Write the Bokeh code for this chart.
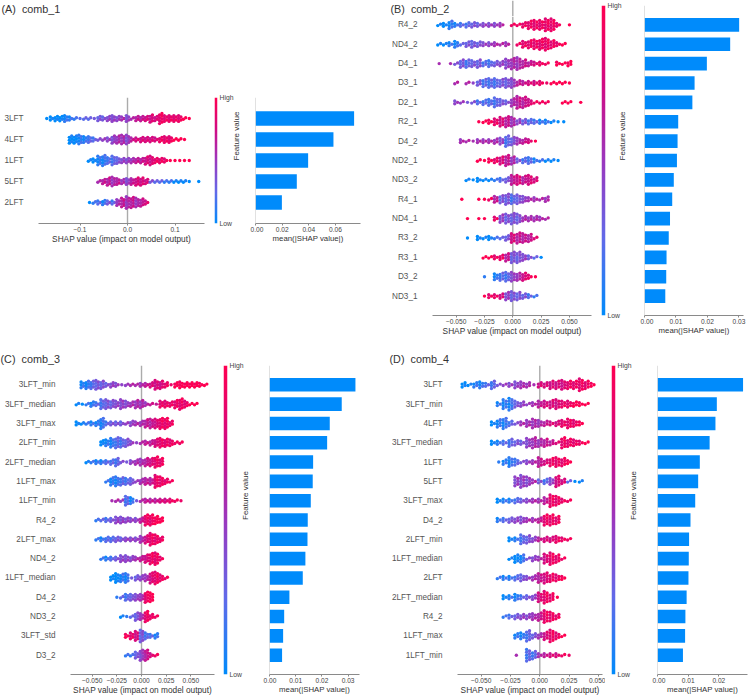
from bokeh.embed import file_html
from bokeh.resources import INLINE
from bokeh.layouts import row, column
from bokeh.plotting import figure
from bokeh.models import Range1d, FixedTicker, Span, Label, LinearColorMapper, Title
import numpy as np
import math

# ---- values in 1e-3 SHAP units: per row x / dot count / colour level (0 low .. 9 high)
A_features = ["3LFT", "4LFT", "1LFT", "5LFT", "2LFT"]
A_bars = [0.074, 0.0585, 0.0395, 0.031, 0.0198]
A_x = [
 [-170,-160,-150,-140,-130,-120,-110,-100,-90,-80,-70,-60,-50,-40,-30,-20,-10,0,10,20,30,40,50,60,70,80,90,100,110,120,130],
 [-120,-110,-100,-90,-80,-70,-60,-50,-40,-30,-20,-10,0,10,20,30,40,50,60,70,80,90,100,110,120],
 [-80,-70,-60,-50,-40,-30,-20,-10,0,10,20,30,40,50,60,70,80,90,100,110,120,130],
 [-60,-50,-40,-30,-20,-10,0,10,20,30,40,50,60,70,80,90,100,110,120,130,150],
 [-80,-70,-60,-50,-40,-30,-20,-10,0,10,20,30,40]]
A_n = [
 [1,3,4,4,5,3,2,1,2,2,1,4,3,4,5,4,3,5,2,4,4,4,6,4,8,5,5,5,5,2,1],
 [6,6,7,5,5,3,2,2,3,6,6,7,7,3,3,4,4,4,3,4,5,5,2,2,1],
 [2,3,7,8,5,7,5,4,4,4,4,4,6,7,4,4,3,1,1,1,1,1],
 [2,4,6,7,5,4,5,5,6,6,4,2,2,2,2,2,2,2,2,1,1],
 [1,2,3,4,3,3,5,7,9,8,7,6,3]]
A_c = [
 [0,0,0,0,1,1,1,2,2,2,3,3,3,4,4,4,5,4,5,6,6,7,7,7,8,8,8,8,8,9,9],
 [0,0,1,1,2,2,3,4,4,4,5,5,4,6,7,7,7,7,7,8,8,8,9,9,9],
 [0,0,1,1,2,2,3,4,4,5,6,6,7,7,8,8,8,9,9,9,9,9],
 [5,6,6,5,6,5,4,6,7,7,7,3,2,2,1,1,0,0,0,0,0],
 [0,1,2,1,3,2,5,6,5,6,5,6,7]]

B_features = ["R4_2","ND4_2","D4_1","D3_1","D2_1","R2_1","D4_2","ND2_1","ND3_2","R4_1","ND4_1","R3_2","R3_1","D3_2","ND3_1"]
B_bars = [0.03005,0.0272,0.0198,0.0159,0.0152,0.0107,0.0105,0.0103,0.0093,0.0088,0.0081,0.0077,0.0070,0.0069,0.0066]
B_x = [
 [-65,-60,-55,-50,-45,-40,-35,-30,-25,-20,-15,-10,0,5,10,15,20,25,30,35,40,50],
 [-65,-60,-55,-50,-45,-40,-35,-30,-25,-20,-15,-10,-5,5,10,15,20,25,30,35,40,45],
 [-65,-55,-50,-45,-40,-35,-30,-25,-20,-15,-10,-5,0,5,10,15,20,25,30,40,45,50],
 [-50,-40,-35,-30,-25,-20,-15,-10,-5,0,5,10,15,20,25,30,35,40,45,50],
 [-50,-45,-40,-35,-30,-25,-20,-15,-10,-5,0,5,10,15,20,25,30,45,50,60],
 [-30,-25,-20,-15,-10,-5,0,5,10,15,20,25,30,35,40,45],
 [-45,-40,-35,-30,-25,-20,-15,-10,-5,0,5,10,15,20],
 [-30,-25,-20,-15,-10,-5,0,5,10,15,20,25,30,35,40],
 [-40,-35,-30,-25,-20,-15,-10,-5,0,5,10,15,20],
 [-45,-30,-25,-20,-15,-10,-5,0,5,10,15,20,25,30],
 [-40,-30,-25,-15,-10,-5,0,5,10,15,20,25,30],
 [-40,-30,-25,-20,-15,-10,-5,0,5,10,15,20],
 [-25,-20,-15,-10,-5,0,5,10,15,20,25],
 [-25,-15,-10,-5,0,5,10,15,20],
 [-25,-20,-15,-10,-5,0,5,10,15,20]]
B_n = [
 [2,3,6,3,3,4,4,3,3,3,3,3,2,2,4,6,7,7,9,9,3,1],
 [2,2,3,5,2,4,5,4,3,3,3,2,3,2,5,6,7,8,9,6,3,2],
 [1,1,2,6,6,5,6,4,5,4,4,7,8,9,6,4,3,3,2,3,2,4],
 [2,2,1,4,6,7,7,6,7,7,4,3,3,3,3,1,2,2,2,1],
 [3,2,1,2,3,4,5,7,5,3,6,9,8,5,2,2,2,2,2,1],
 [1,2,3,5,7,8,7,4,4,4,3,3,3,2,1,1],
 [3,2,1,3,3,3,4,5,8,6,5,4,3,1],
 [2,1,3,4,6,8,6,3,4,5,3,2,2,2,1],
 [2,1,3,2,2,2,3,4,7,7,6,7,4],
 [1,1,1,2,5,6,8,7,7,5,3,3,2,4],
 [1,1,1,3,6,7,8,7,4,4,4,3,2],
 [1,3,2,3,2,2,4,7,8,7,6,2],
 [2,2,3,4,6,8,8,5,3,2,1],
 [1,5,6,7,7,6,6,3,1],
 [1,3,3,4,6,7,6,4,3,2]]
B_c = [
 [0,0,1,1,2,2,3,3,4,4,4,5,8,8,8,8,8,8,8,8,8,9],
 [0,0,1,1,2,3,3,3,4,4,5,5,5,8,8,8,8,8,8,8,8,9],
 [5,5,3,3,2,3,3,2,2,3,4,4,5,5,6,6,7,8,8,9,9,9],
 [5,5,4,3,2,2,2,3,3,4,6,6,7,7,8,8,9,9,9,9],
 [4,4,3,3,2,2,2,2,3,3,5,6,6,7,8,8,8,9,9,9],
 [9,9,9,8,7,6,5,4,3,2,2,1,1,0,0,0],
 [5,5,5,5,5,5,5,4,2,3,5,6,7,9],
 [9,9,9,8,7,6,5,3,2,2,1,1,0,0,0],
 [0,0,0,0,0,1,2,3,6,7,6,7,7],
 [9,9,9,8,6,3,3,2,3,4,5,5,5,5],
 [9,9,9,8,4,3,3,3,5,5,5,5,5],
 [0,0,0,0,1,2,3,7,6,6,6,7],
 [9,9,8,8,6,3,3,4,3,2,0],
 [1,1,2,2,4,5,7,8,9],
 [9,8,8,7,4,3,3,3,2,1]]

C_features = ["3LFT_min","3LFT_median","3LFT_max","2LFT_min","2LFT_median","1LFT_max","1LFT_min","R4_2","2LFT_max","ND4_2","1LFT_median","D4_2","ND3_2","3LFT_std","D3_2"]
C_bars = [0.0328,0.02757,0.0230,0.0220,0.01665,0.0165,0.01576,0.0146,0.0145,0.0137,0.0127,0.0076,0.0056,0.0052,0.0048]
C_x = [
 [-60,-55,-50,-45,-40,-35,-30,-25,-20,-15,-10,-5,0,5,10,15,20,25,30,35,40,45,50,55,60,65],
 [-65,-60,-55,-50,-45,-40,-35,-30,-25,-20,-15,-10,-5,0,5,10,15,20,25,30,35,40,45,50,55],
 [-65,-60,-55,-50,-45,-40,-35,-30,-25,-20,-15,-10,-5,0,5,10,15,20,25,30],
 [-40,-35,-30,-25,-20,-15,-10,-5,0,5,10,15,20,25,30,35,40],
 [-55,-50,-45,-40,-35,-30,-25,-20,-15,-10,-5,0,5,10,15,20],
 [-35,-30,-25,-20,-15,-10,-5,0,5,10,15,20,25,30],
 [-30,-25,-20,-15,-10,-5,0,5,10,15,20,25,30,35,40],
 [-45,-40,-35,-30,-25,-20,-15,-10,-5,0,5,10,15,20],
 [-45,-40,-35,-30,-25,-20,-15,-10,-5,0,5,10,15,20],
 [-40,-35,-30,-25,-20,-15,-10,-5,0,5,10,15,20],
 [-30,-25,-20,-15,-10,-5,0,5,10,15,20,25],
 [-25,-20,-15,-10,-5,0,5,10],
 [-20,-15,-10,-5,0,5,10,15],
 [-15,-10,-5,0,5,10,15],
 [-15,-10,-5,0,5,10,15]]
C_n = [
 [5,6,6,7,6,3,4,3,1,2,2,2,3,3,4,7,6,4,1,4,5,4,4,4,3,2],
 [2,1,2,4,3,7,7,6,5,7,5,4,6,6,3,2,1,5,5,4,6,8,5,2,2],
 [3,2,2,3,4,8,3,3,3,3,2,4,3,4,6,7,7,8,8,4],
 [4,5,7,8,7,6,3,1,2,3,4,6,7,6,5,2,2],
 [2,2,3,3,3,4,6,2,1,3,4,5,6,6,8,6],
 [2,6,7,6,5,5,2,4,5,5,9,7,4,2],
 [1,2,2,7,5,1,2,3,3,3,3,3,3,2,1],
 [2,2,3,3,5,5,4,3,3,4,8,8,6,4],
 [2,3,4,4,4,3,3,3,3,5,6,9,7,4],
 [2,3,3,3,5,5,4,3,4,6,8,9,3],
 [4,7,6,7,1,4,4,5,8,9,5,2],
 [1,2,5,5,5,5,8,7],
 [2,1,2,6,5,8,4,2],
 [3,5,7,9,5,3,4],
 [2,2,5,8,8,3,2]]
C_c = [
 [1,1,2,3,3,3,4,4,4,4,5,5,5,6,7,7,7,8,8,9,9,9,9,9,9,9],
 [0,0,1,1,2,2,3,3,4,4,4,5,5,5,5,6,6,8,8,8,8,8,8,9,9],
 [0,0,1,1,1,1,2,3,3,3,4,4,5,5,6,6,7,8,8,8],
 [0,1,1,2,2,3,4,4,5,6,6,7,8,8,8,8,8],
 [0,1,1,1,2,2,2,3,3,4,5,5,6,7,8,8],
 [1,1,1,2,2,3,4,5,6,6,8,8,8,8],
 [5,5,4,2,1,3,5,6,6,6,7,7,8,8,8],
 [1,2,2,3,4,4,4,4,4,6,8,8,9,9],
 [1,1,2,2,3,3,4,4,4,5,7,8,8,8],
 [1,1,2,3,4,4,4,5,6,7,8,8,8],
 [0,0,1,1,3,3,4,5,7,8,8,8],
 [1,2,2,3,4,5,8,9],
 [0,1,2,3,5,8,8,8],
 [9,8,7,3,2,2,1],
 [1,1,3,4,6,7,8]]

D_features = ["3LFT","3LFT_min","4LFT","3LFT_median","1LFT","5LFT","3LFT_max","D4_2","2LFT_min","1LFT_median","2LFT","2LFT_median","R4_2","1LFT_max","1LFT_min"]
D_bars = [0.0279,0.01935,0.0189,0.017,0.0138,0.01326,0.0123,0.01076,0.0103,0.0102,0.0101,0.0095,0.0091,0.0090,0.0083]
D_x = [
 [-65,-60,-55,-50,-45,-40,-35,-30,-25,-20,-15,-10,-5,0,5,10,15,20,25,30,35,40,45],
 [-35,-30,-25,-20,-15,-10,-5,0,5,10,15,20,25,30,35,40],
 [-40,-35,-30,-25,-20,-15,-10,-5,0,5,10,15,20,25,30,35],
 [-40,-35,-30,-25,-20,-15,-10,-5,0,5,10,15,20,25,30,35,40],
 [-35,-30,-25,-20,-15,-10,-5,0,5,10,15,20,25],
 [-20,-15,-10,-5,0,5,10,15,20,25,30,35],
 [-35,-30,-25,-20,-15,-10,-5,0,5,10,15,20,25],
 [-35,-30,-25,-20,-15,-10,-5,0,5,10,15],
 [-25,-20,-15,-10,-5,0,5,10,15,20,25],
 [-25,-20,-15,-10,-5,0,5,10,15,20],
 [-35,-30,-25,-20,-15,-10,-5,0,5,10,15,20],
 [-30,-25,-20,-15,-10,-5,0,5,10,15],
 [-30,-25,-20,-15,-10,-5,0,5,10,15],
 [-20,-15,-10,-5,0,5,10,15,20],
 [-20,-10,-5,0,5,10,15,20,25]]
D_n = [
 [4,2,4,5,3,6,2,2,3,5,5,4,1,4,4,6,6,7,6,6,9,6,3],
 [3,7,9,5,4,2,3,5,5,6,7,5,5,4,3,2],
 [3,6,8,4,2,3,5,7,5,4,3,4,5,7,5,3],
 [3,3,3,6,4,3,7,8,6,6,4,2,8,6,5,3,2],
 [1,4,7,5,2,3,3,7,4,6,7,6,3],
 [7,9,7,3,3,4,5,8,4,2,1,2],
 [3,3,3,4,3,3,3,3,5,9,7,3,2],
 [3,3,4,4,5,3,3,4,8,8,6],
 [3,3,7,6,4,3,4,4,5,3,2],
 [2,6,6,2,4,3,7,9,6,2],
 [2,3,3,4,5,3,4,7,8,6,5,3],
 [3,3,5,3,3,4,7,9,6,1],
 [2,3,4,4,4,5,6,9,7,4],
 [4,5,8,4,4,6,9,5,2],
 [1,9,6,3,3,3,3,2,1]]
D_c = [
 [0,0,1,1,2,2,3,4,4,4,5,5,5,7,7,7,7,7,8,8,8,8,9],
 [1,1,1,3,4,4,5,6,7,7,7,8,8,9,9,9],
 [0,1,1,2,3,5,5,5,5,6,7,7,8,8,8,9],
 [0,1,2,2,3,3,4,5,5,6,6,7,8,8,8,8,9],
 [1,1,1,2,3,4,5,6,7,8,8,8,9],
 [4,4,4,5,3,2,4,7,7,2,0,0],
 [0,1,1,2,3,4,5,5,6,8,8,8,8],
 [1,2,3,4,4,5,5,6,8,8,8],
 [0,1,2,3,4,6,7,7,8,8,8],
 [0,0,1,3,4,5,7,8,8,8],
 [1,1,1,2,3,4,5,6,7,8,8,9],
 [0,1,1,2,3,4,7,8,8,9],
 [1,2,3,4,4,5,6,8,8,8],
 [1,1,2,3,5,7,8,8,9],
 [5,2,2,5,6,7,7,8,8]]

SWARM_TICKS_A = [-0.1, 0.0, 0.1]
SWARM_LABELS_A = ["\u22120.1", "0.0", "0.1"]
SWARM_TICKS = [-0.05, -0.025, 0.0, 0.025, 0.05]
SWARM_LABELS = ["\u22120.050", "\u22120.025", "0.000", "0.025", "0.050"]
BAR_TICKS_A = [0.0, 0.02, 0.04, 0.06]
BAR_TICKS_BC = [0.0, 0.01, 0.02, 0.03]
BAR_TICKS_D = [0.0, 0.01, 0.02]

FONT = "Liberation Sans"
BLUE = "#008bfb"
ZERO_LINE = dict(line_color="#ababab", line_width=1.4, level="underlay")
ANCHORS = [(0, 139, 251), (98, 105, 233), (155, 55, 190), (210, 10, 130), (255, 0, 81)]


def ramp(t):
    s = min(max(t, 0.0), 1.0) * (len(ANCHORS) - 1)
    i = min(int(s), len(ANCHORS) - 2)
    f = s - i
    a, b = ANCHORS[i], ANCHORS[i + 1]
    return "#%02x%02x%02x" % tuple(int(round(a[j] + (b[j] - a[j]) * f)) for j in range(3))


PALETTE = [ramp(i / 255) for i in range(256)]
PATTERN = [0, 1, -1, 0, -1, 1]


def style_x(p, ticks, labels, label_size):
    ax = p.xaxis[0]
    ax.ticker = FixedTicker(ticks=ticks)
    ax.major_label_overrides = dict(zip(ticks, labels))
    ax.axis_line_color = "#8a8a8a"
    ax.major_tick_line_color = "#8a8a8a"
    ax.major_tick_out = 2
    ax.major_tick_in = 0
    ax.minor_tick_line_color = None
    ax.minor_tick_out = 0
    ax.major_label_text_font = FONT
    ax.major_label_text_font_size = "6.6px"
    ax.major_label_text_color = "#444444"
    ax.major_label_standoff = 1
    ax.axis_label_text_font = FONT
    ax.axis_label_text_font_size = label_size
    ax.axis_label_text_font_style = "normal"
    ax.axis_label_text_color = "#333333"
    ax.axis_label_standoff = -1


def base(W, H, L, R, T, B, xr, yr, **kw):
    p = figure(width=W, height=H, min_border_left=L, min_border_right=R, min_border_top=T, min_border_bottom=B,
               x_range=Range1d(*xr), y_range=Range1d(*yr), toolbar_location=None, output_backend="svg", tools="", **kw)
    p.grid.visible = False
    p.outline_line_color = None
    p.background_fill_color = None
    p.border_fill_color = None
    return p


def blank_strip(W, H, xr=(0, 1)):
    p = base(W, H, 0, 0, 0, 0, xr, (0, 1))
    p.xaxis.visible = False
    p.yaxis.visible = False
    return p


def add_label(p, text, x, y):
    # screen offsets are measured from the frame's lower-left corner; labels are clipped to the frame
    p.add_layout(Label(x=x, y=y, x_units="screen", y_units="screen", text=text, text_font=FONT,
                       text_font_size="10.8px", text_color="#333333", text_baseline="middle", text_align="left"))


def add_title(p, text, offset):
    p.add_layout(Title(text=text, align="left", offset=offset, standoff=1, text_font=FONT, text_font_size="10.8px",
                       text_font_style="normal", text_color="#333333"), "above")


def swarm(W, H, L, R, T, B, xr, feats, xs, ns, cs, step, ticks, labels, ytop=None):
    count = len(feats)
    top = count if ytop is None else ytop
    p = base(W, H, L, R, T, B, xr, (-1, top))
    pitch = (H - T - B) / (top + 1)
    dy = 1.45 / pitch
    px, py, pc = [], [], []
    for r, (rx, rn, rc) in enumerate(zip(xs, ns, cs)):
        level = count - 1 - r
        for v, n, c in zip(rx, rn, rc):
            for k in range(n):
                px.append(v / 1000 + (0 if n == 1 else ((k % 2) - 0.5) * step / 2))
                py.append(level + (k - (n - 1) / 2) * dy)
                pc.append(ramp((c + PATTERN[k % 6] * 0.7) / 9))
    p.add_layout(Span(location=0, dimension="height", **ZERO_LINE))
    p.scatter(px, py, size=3.4, color=pc, line_color=None, marker="circle")
    style_x(p, ticks, labels, "8.3px")
    p.xaxis[0].axis_label = "SHAP value (impact on model output)"
    ay = p.yaxis[0]
    ay.ticker = FixedTicker(ticks=list(range(count)))
    ay.major_label_overrides = {count - 1 - i: f for i, f in enumerate(feats)}
    ay.axis_line_color = None
    ay.major_tick_line_color = None
    ay.minor_tick_line_color = None
    ay.major_tick_out = 0
    ay.minor_tick_out = 0
    ay.major_label_standoff = 15
    ay.major_label_text_font = FONT
    ay.major_label_text_font_size = "8.2px"
    ay.major_label_text_color = "#555555"
    return p


def cbar(W, H, L, R, T, B, gap):
    p = base(W, H, L, R, T, B, (0, 1), (0, 1), y_axis_location="right")
    p.image(image=[np.linspace(0, 1, 256)[:, None]], x=0, y=0, dw=1, dh=1,
            color_mapper=LinearColorMapper(palette=PALETTE, low=0, high=1))
    p.xaxis.visible = False
    ay = p.yaxis[0]
    ay.ticker = FixedTicker(ticks=[0, 1])
    ay.major_label_overrides = {0: "Low", 1: "High"}
    ay.axis_line_color = None
    ay.major_tick_line_color = None
    ay.minor_tick_line_color = None
    ay.major_tick_out = 0
    ay.minor_tick_out = 0
    ay.major_label_standoff = 2
    ay.major_label_text_font = FONT
    ay.major_label_text_font_size = "6.8px"
    ay.major_label_text_color = "#444444"
    ay.axis_label = "Feature value"
    ay.axis_label_text_font = FONT
    ay.axis_label_text_font_size = "8px"
    ay.axis_label_text_font_style = "normal"
    ay.axis_label_text_color = "#333333"
    ay.axis_label_standoff = gap
    ay.axis_label_orientation = math.pi / 2
    return p


def bars(W, H, L, R, T, B, xmax, vals, ticks):
    count = len(vals)
    p = base(W, H, L, R, T, B, (0, xmax), (-1, count))
    p.hbar(y=[count - 1 - i for i in range(count)], right=vals, left=0, height=0.7, color=BLUE, line_color=None)
    p.add_layout(Span(location=0, dimension="height", line_color="#c4c4c4", line_width=1))
    style_x(p, ticks, ["%.2f" % t for t in ticks], "7.8px")
    p.xaxis[0].axis_label = "mean(|SHAP value|)"
    p.yaxis.visible = False
    return p


H1, H2 = 340, 357
# panel A sits in a shorter block, so its title and the empty space are separate strips
A_H = 156
a0 = blank_strip(374, 92)
add_label(a0, "(A)\u00a0\u00a0comb_1", 1, 84)
a1 = swarm(208, A_H, 38, 4, 5, 25, (-0.1874, 0.1621), A_features, A_x, A_n, A_c, 0.010, SWARM_TICKS_A, SWARM_LABELS_A)
a2 = cbar(42, A_H, 6, 33, 5, 25, 0)
a3 = bars(124, A_H, 5, 14, 5, 25, 0.0788, A_bars, BAR_TICKS_A)
a9 = blank_strip(374, 92)

# panel B: the title overlaps the frame's height, so the top of the swarm is a strip sharing its x scale
B_XR = (-0.0709, 0.0695)
B_UNIT = (B_XR[1] - B_XR[0]) / 159
B_STRIP = 16
b0 = blank_strip(221, B_STRIP, (B_XR[0] - 58 * B_UNIT, B_XR[1] + 4 * B_UNIT))
b0.add_layout(Span(location=0, dimension="height", **ZERO_LINE))
add_label(b0, "(B)\u00a0\u00a0comb_2", 16, 8)
b1 = swarm(221, H1 - B_STRIP, 58, 4, 0, 25, B_XR, B_features, B_x, B_n, B_c, 0.005, SWARM_TICKS, SWARM_LABELS,
           ytop=len(B_features) - 11 / 19.33)
b2 = cbar(45, H1, 6, 35, 5, 25, -2)
b3 = bars(108, H1, 4, 5, 5, 25, 0.03143, B_bars, BAR_TICKS_BC)

c1 = swarm(218, H2, 70, 4, 25, 23, (-0.0720, 0.0740), C_features, C_x, C_n, C_c, 0.005, SWARM_TICKS, SWARM_LABELS)
add_title(c1, "(C)\u00a0\u00a0comb_3", -70)
c2 = cbar(45, H2, 5, 36, 25, 23, -1)
c3 = bars(111, H2, 6, 15, 25, 23, 0.03435, C_bars, BAR_TICKS_BC)
d1 = swarm(231, H2, 83, 3, 25, 23, (-0.0702, 0.0535), D_features, D_x, D_n, D_c, 0.005, SWARM_TICKS, SWARM_LABELS)
add_title(d1, "(D)\u00a0\u00a0comb_4", -68)
d2 = cbar(47, H2, 6, 37, 25, 23, -1)
d3 = bars(96, H2, 5, 1, 25, 23, 0.02935, D_bars, BAR_TICKS_D)

left_top = column(a0, row(a1, a2, a3), a9)
# nesting each figure in its own row stops the column from lining up their frames
right_top = row(column(row(b0), row(b1)), b2, b3)
page = column(row(left_top, right_top), row(row(c1, c2, c3), row(d1, d2, d3)))
open("out.html", "w").write(file_html(page, INLINE))
